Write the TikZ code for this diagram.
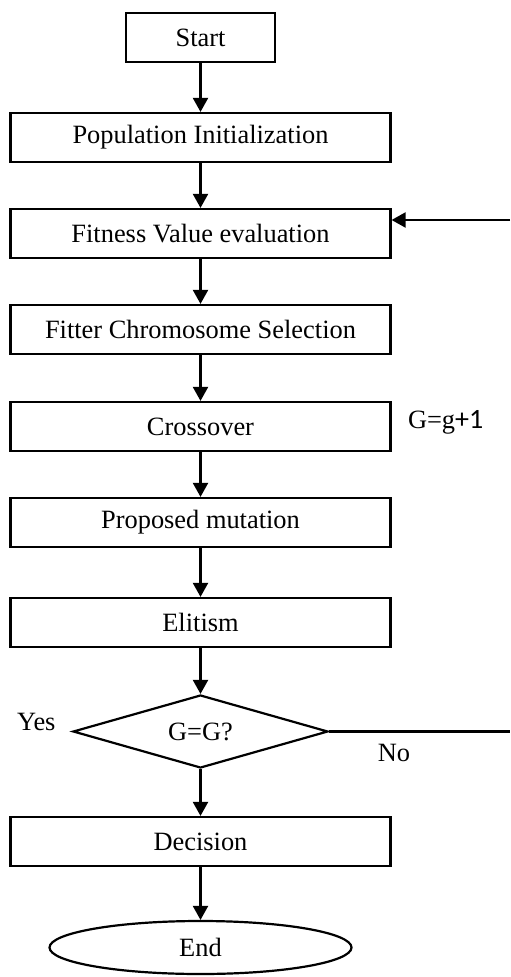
\documentclass[tikz,border=0pt]{standalone}
\usepackage{fontspec}
\setmainfont{Liberation Serif}
\newfontfamily\calibrifont{Carlito}
\usetikzlibrary{positioning,shapes.geometric,arrows.meta}

\begin{document}
\begin{tikzpicture}[
    node distance=48pt,
    font=\fontsize{13.2}{15}\selectfont,
    stepbox/.style={rectangle, draw, line width=1.1pt, minimum width=190pt, minimum height=24.5pt, inner sep=0pt},
    decide/.style={diamond, draw, line width=1.1pt, minimum width=127.5pt, minimum height=36.5pt, inner sep=0pt, aspect=3.5},
    terminal/.style={ellipse, draw, line width=1.1pt, minimum width=151pt, minimum height=26.5pt, inner sep=0pt},
    flow/.style={line width=1.1pt, -{Triangle[length=7pt, width=7.5pt]}},
    note/.style={inner sep=0pt}
  ]
    \useasboundingbox (0,0) rectangle (255pt,-488.5pt);

    \node[stepbox, minimum width=74.5pt] (start) at (100.25pt,-18.75pt) {Start};
    \node[stepbox, node distance=50pt, below of=start] (init) {Population Initialization};
    \node[stepbox, below of=init] (fitness) {Fitness Value evaluation};
    \node[stepbox, below of=fitness] (select) {Fitter Chromosome Selection};
    \node[stepbox, node distance=48.5pt, below of=select] (cross) {Crossover};
    \node[stepbox, below of=cross] (mutate) {Proposed mutation};
    \node[stepbox, node distance=50pt, below of=mutate] (elite) {Elitism};
    \node[decide, node distance=54.5pt, below of=elite] (check) {G=G?};
    \node[stepbox, node distance=55pt, below of=check] (decision) {Decision};
    \node[terminal, node distance=53pt, below of=decision] (end) {End};

    \draw[flow] (start) -- (init);
    \draw[flow] (init) -- (fitness);
    \draw[flow] (fitness) -- (select);
    \draw[flow] (select) -- (cross);
    \draw[flow] (cross) -- (mutate);
    \draw[flow] (mutate) -- (elite);
    \draw[flow] (elite) -- (check);
    \draw[flow] (check) -- (decision);
    \draw[flow] (decision) -- (end);

    % loop back to the fitness step
    \coordinate (backtop) at (255pt,-110pt);
    \coordinate (backbot) at (check.east -| backtop);
    \draw[line width=1.1pt] (check.east) -- (backbot);
    \draw[flow] (backtop) -- (backtop -| fitness.east);

    \node[note, left=8pt of check.west, yshift=4.75pt] (yes) {Yes};
    \node[note] (no) at (197pt,-376.5pt) {No};
    \node[note, right=8pt of cross.east, yshift=2pt] (count) {G=g{\calibrifont\fontsize{14}{15}\selectfont +1}};
  \end{tikzpicture}
\end{document}
